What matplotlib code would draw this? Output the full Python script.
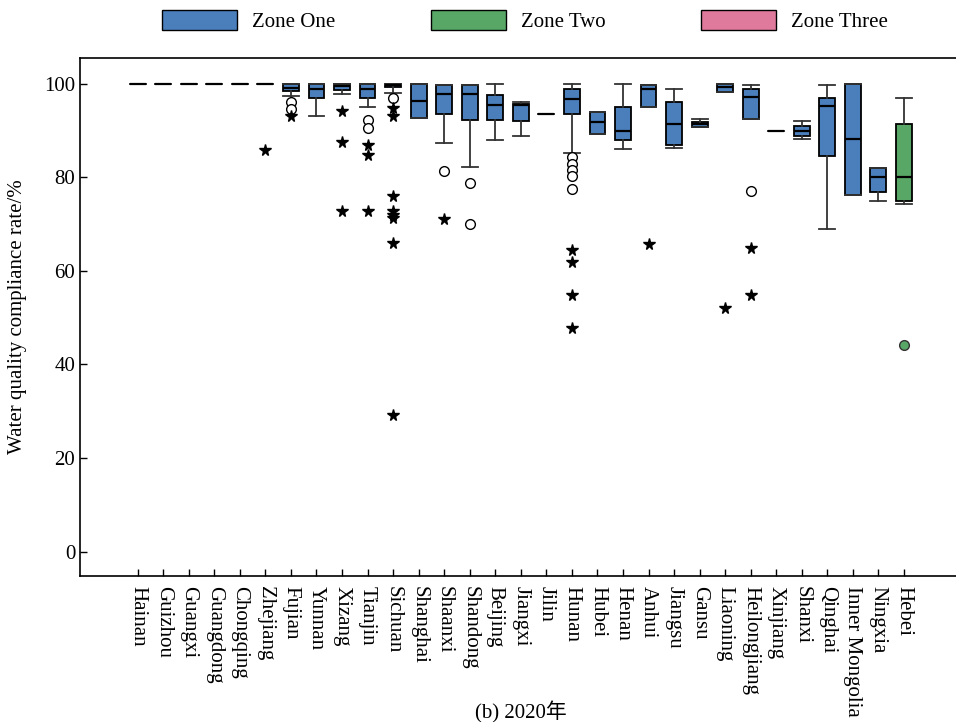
import matplotlib
matplotlib.use("Agg")
import matplotlib.pyplot as plt
from matplotlib.patches import Patch

plt.rcParams['font.family'] = ['Liberation Serif', 'Noto Sans CJK SC']
plt.rcParams['font.size'] = 15

provinces = ['Hainan', 'Guizhou', 'Guangxi', 'Guangdong', 'Chongqing', 'Zhejiang',
             'Fujian', 'Yunnan', 'Xizang', 'Tianjin', 'Sichuan', 'Shanghai',
             'Shaanxi', 'Shandong', 'Beijing', 'Jiangxi', 'Jilin', 'Hunan', 'Hubei',
             'Henan', 'Anhui', 'Jiangsu', 'Gansu', 'Liaoning', 'Heilongjiang',
             'Xinjiang', 'Shanxi', 'Qinghai', 'Inner Mongolia', 'Ningxia', 'Hebei']
zone = [0] * 30 + [1]

whis_lo = [100, 100, 100, 100, 100, 100, 97.4, 93.0, 97.7, 95.0, 98.0, 92.7, 87.4, 82.3,
           88.0, 88.9, 93.5, 85.1, 89.3, 86.0, 95.1, 86.2, 90.7, 98.2, 92.5, 90.0, 88.1,
           69.0, 76.2, 75.0, 74.2]
q1 = [100, 100, 100, 100, 100, 100, 98.5, 96.9, 98.7, 96.9, 99.2, 92.7, 93.5, 92.2,
      92.2, 92.1, 93.5, 93.5, 89.3, 88.0, 95.1, 86.9, 90.7, 98.2, 92.5, 90.0, 88.9,
      84.6, 76.2, 76.9, 74.9]
median = [100, 100, 100, 100, 100, 100, 99.1, 98.9, 99.6, 98.8, 99.7, 96.4, 97.7, 97.7,
          95.4, 95.5, 93.5, 96.7, 91.8, 90.0, 98.8, 91.5, 91.3, 99.2, 97.1, 90.0, 90.0,
          95.3, 88.2, 80.0, 80.0]
q3 = [100, 100, 100, 100, 100, 100, 99.9, 100, 100, 99.9, 100, 100, 99.7, 99.7,
      97.5, 95.7, 93.5, 98.9, 93.9, 95.1, 99.8, 96.1, 91.8, 100, 98.8, 90.0, 91.0,
      97.0, 99.9, 82.0, 91.5]
whis_hi = [100, 100, 100, 100, 100, 100, 100, 100, 100, 100, 100, 100, 99.7, 99.7,
           99.9, 96.2, 93.5, 100, 93.9, 99.9, 99.8, 98.9, 92.4, 100, 99.8, 90.0, 92.1,
           99.8, 99.9, 82.0, 97.0]

# open circles (outliers) and stars (extreme values)
circles = {6: [96.2, 94.7], 9: [92.2, 90.5], 10: [96.9], 12: [81.4], 13: [78.7, 70.0],
           17: [84.3, 82.9, 81.6, 80.2, 77.6], 24: [77.0]}
stars = {5: [85.8], 6: [93.0], 8: [94.2, 87.5, 72.7], 9: [86.9, 84.8, 72.9],
         10: [94.9, 93.0, 76.0, 72.8, 71.9, 71.4, 66.0, 29.2], 12: [71.1],
         17: [64.4, 61.9, 54.9, 47.9], 20: [65.7], 23: [52.0], 24: [64.8, 54.9]}
filled = {30: [44.2]}

zone_names = ['Zone One', 'Zone Two', 'Zone Three']
zone_colors = ['#4a7fbb', '#58a767', '#e07a9c']

fig = plt.figure(figsize=(9.56, 7.22), dpi=100)
ax = fig.add_axes([80 / 956, 146 / 722, 876 / 956, 518 / 722])

stats = []
for i, name in enumerate(provinces):
    stats.append(dict(label=name, whislo=whis_lo[i], q1=q1[i], med=median[i],
                      q3=q3[i], whishi=whis_hi[i], fliers=[]))

bp = ax.bxp(stats, positions=range(len(provinces)), widths=0.62, capwidths=0.62,
            patch_artist=True, showfliers=False,
            boxprops=dict(edgecolor='black', linewidth=1.3),
            medianprops=dict(color='black', linewidth=1.6),
            whiskerprops=dict(color='#333333', linewidth=1.3),
            capprops=dict(color='#333333', linewidth=1.3))
for box, z in zip(bp['boxes'], zone):
    box.set_facecolor(zone_colors[z])

for i, vals in circles.items():
    ax.plot([i] * len(vals), vals, 'o', ms=7, mfc='white', mec='black', mew=1.0)
for i, vals in stars.items():
    ax.plot([i] * len(vals), vals, '*', ms=8.5, color='black')
for i, vals in filled.items():
    ax.plot([i] * len(vals), vals, 'o', ms=7, mfc=zone_colors[zone[i]], mec='#333333', mew=1.0)

ax.set_xlim(-2.26, 32.04)
ax.set_ylim(-5.2, 105.5)
ax.set_yticks([0, 20, 40, 60, 80, 100])
ax.set_xticks(range(len(provinces)))
ax.set_xticklabels(provinces, rotation=270, ha='center', va='top')
ax.tick_params(direction='in', length=5, width=1)
ax.tick_params(axis='x', pad=7)
ax.spines['right'].set_visible(False)
for s in ['left', 'bottom', 'top']:
    ax.spines[s].set_linewidth(1.2)
ax.set_ylabel('Water quality compliance rate/%', labelpad=12)

handles = [Patch(facecolor=c, edgecolor='black', linewidth=1.0) for c in zone_colors]
fig.legend(handles, zone_names, loc='center', bbox_to_anchor=(525 / 956, 1 - 21 / 722),
           ncol=3, frameon=False, handlelength=3.6, handleheight=1.15,
           handletextpad=0.7, columnspacing=4.6)

fig.text(521 / 956, 10 / 722, '(b) 2020年', ha='center', va='center')

fig.savefig('out.png', dpi=100)
